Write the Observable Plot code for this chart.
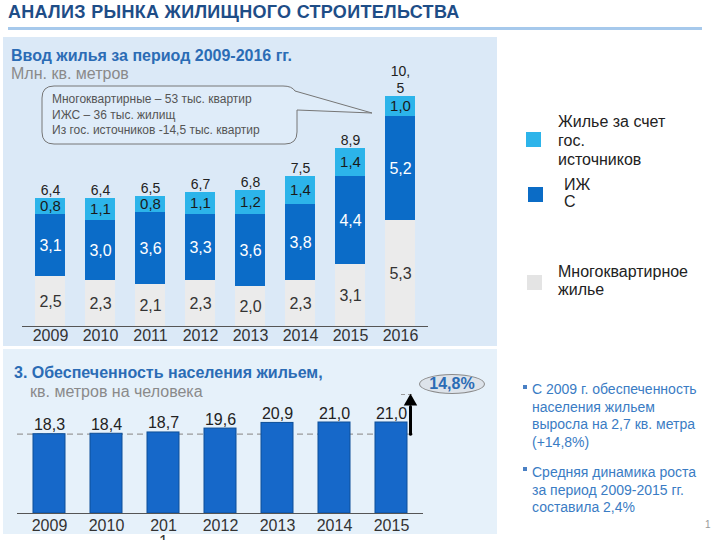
<!DOCTYPE html>
<html><head><meta charset="utf-8">
<script src="https://cdn.jsdelivr.net/npm/d3@7"></script>
<script src="https://cdn.jsdelivr.net/npm/@observablehq/plot@0.6"></script>
<style>
body{margin:0;width:720px;height:540px;overflow:hidden;background:#fff;font-family:"Liberation Sans",Arial,sans-serif;position:relative}
.abs{position:absolute;line-height:1;white-space:nowrap}
.panel{position:absolute}
.sq{position:absolute;width:15px;height:15px}
.leg{position:absolute;font-size:16px;color:#222;white-space:nowrap}
.bul{position:absolute;font-size:14px;color:#3a7cc4;line-height:17.7px;white-space:nowrap}
.mk{position:absolute;width:4px;height:4px;background:#4a80c4}
</style></head><body>
<div class="abs" style="left:8px;top:3px;font-size:18px;font-weight:bold;letter-spacing:0.3px;color:#1e4d87">АНАЛИЗ РЫНКА ЖИЛИЩНОГО СТРОИТЕЛЬСТВА</div>
<div class="abs" style="left:8px;top:27px;width:694px;height:3px;background:#a6c9ec"></div>

<div class="panel" style="left:3px;top:37px;width:494px;height:309px;background:#dbe9f7"></div>
<div class="panel" style="left:3px;top:349px;width:494px;height:185px;background:#e6f1fa"></div>

<div id="topchart" style="position:absolute;left:0;top:37px"></div>
<div id="lowchart" style="position:absolute;left:0;top:349px"></div>

<div class="abs" style="left:11px;top:48px;font-size:16px;font-weight:bold;color:#2b6cb5">Ввод жилья за период 2009-2016 гг.</div>
<div class="abs" style="left:11px;top:66px;font-size:16px;color:#8a8a8a">Млн. кв. метров</div>

<svg style="position:absolute;left:0;top:0" width="720" height="540">
  <path d="M54,86 H283 Q292,86 295,91 L372,113 L297,110 V132 Q297,144 285,144 H54 Q42,144 42,132 V98 Q42,86 54,86 Z" fill="#dfecf9" stroke="#767676" stroke-width="1"/>
</svg>
<div class="abs" style="left:52px;top:92px;font-size:12px;line-height:15.5px;color:#555">Многоквартирные – 53 тыс. квартир<br>ИЖС – 36 тыс. жилищ<br>Из гос. источников -14,5 тыс. квартир</div>

<div class="sq" style="left:526px;top:132px;background:#2db4ea"></div>
<div class="leg" style="left:558px;top:112px;line-height:19px">Жилье за счет<br>гос.<br>источников</div>
<div class="sq" style="left:528px;top:187px;background:#0b6cc6"></div>
<div class="leg" style="left:564px;top:176px;line-height:17px">ИЖ<br>С</div>
<div class="sq" style="left:527px;top:275px;background:#e4e4e4"></div>
<div class="leg" style="left:558px;top:263px;line-height:18px">Многоквартирное<br>жилье</div>

<div class="abs" style="left:14px;top:365px;font-size:16px;font-weight:bold;color:#2b6cb5">3. Обеспеченность населения жильем,</div>
<div class="abs" style="left:30px;top:384px;font-size:16px;color:#8a8a8a">кв. метров на человека</div>

<div class="abs" style="left:419px;top:374px;width:64px;height:18px;border:1px solid #8a8a8a;border-radius:50%;background:#dde3ea;text-align:center;line-height:18px;font-size:16px;font-weight:bold;color:#2b6cb5">14,8%</div>

<div class="mk" style="left:523px;top:385px"></div>
<div class="bul" style="left:532px;top:381px">С 2009 г. обеспеченность<br>населения жильем<br>выросла на 2,7 кв. метра<br>(+14,8%)</div>
<div class="mk" style="left:523px;top:467px"></div>
<div class="bul" style="left:532px;top:464px">Средняя динамика роста<br>за период 2009-2015 гг.<br>составила 2,4%</div>
<div class="abs" style="left:705px;top:520px;font-size:10px;color:#999">1</div>

<script>
// ---- Top chart data (млн. кв. метров) ----
const years = ["2009","2010","2011","2012","2013","2014","2015","2016"];
const multiFlat = [2.5, 2.3, 2.1, 2.3, 2.0, 2.3, 3.1, 5.3];
const izhs      = [3.1, 3.0, 3.6, 3.3, 3.6, 3.8, 4.4, 5.2];
const gosSrc    = [0.8, 1.1, 0.8, 1.1, 1.2, 1.4, 1.4, 1.0];
const totalLabels = ["6,4","6,4","6,5","6,7","6,8","7,5","8,9","10,\n5"];
const seriesNames = ["Многоквартирное жилье", "ИЖС", "Жилье за счет гос. источников"];

// ---- Lower chart data (кв. метров на человека) ----
const yearsLower = ["2009","2010","2011","2012","2013","2014","2015"];
const yearLabelsLower = ["2009","2010","201\n1","2012","2013","2014","2015"];
const perCapita = [18.3, 18.4, 18.7, 19.6, 20.9, 21.0, 21.0];

const fmt = v => d3.format(".1f")(v).replace(".", ",");
const FONT = '"Liberation Sans", Arial, sans-serif';

const stackData = [];
years.forEach((y, i) => {
  stackData.push({year: y, series: seriesNames[0], value: multiFlat[i]});
  stackData.push({year: y, series: seriesNames[1], value: izhs[i]});
  stackData.push({year: y, series: seriesNames[2], value: gosSrc[i]});
});
const totalsData = years.map((y, i) => ({year: y, sum: multiFlat[i] + izhs[i] + gosSrc[i], label: totalLabels[i]}));
const segText = s => d => d.series === s ? fmt(d.value) : null;

const topPlot = Plot.plot({
  width: 441, height: 309,
  marginLeft: 22, marginRight: 13, marginTop: 59, marginBottom: 20,
  x: {domain: years, paddingInner: 0.41, paddingOuter: 0.2, axis: null},
  y: {domain: [0, 11.5], axis: null},
  color: {domain: seriesNames, range: ["#ebebeb", "#0b6cc8", "#2cb4ea"]},
  style: {background: "transparent", fontFamily: FONT, fontSize: "16px", overflow: "visible"},
  marks: [
    Plot.barY(stackData, {x: "year", y: "value", fill: "series"}),
    Plot.ruleY([0], {stroke: "#555"}),
    Plot.text(stackData, Plot.stackY({x: "year", y: "value", text: segText(seriesNames[0]), fill: "#333", fontSize: 16})),
    Plot.text(stackData, Plot.stackY({x: "year", y: "value", text: segText(seriesNames[1]), fill: "white", fontSize: 16})),
    Plot.text(stackData, Plot.stackY({x: "year", y: "value", text: segText(seriesNames[2]), fill: "#1a1a1a", fontSize: 15})),
    Plot.text(totalsData, {x: "year", y: "sum", text: "label", lineAnchor: "bottom", lineHeight: 1.2, dy: -4, fontSize: 14, fill: "#222"}),
    Plot.text(years, {x: d => d, text: d => d, frameAnchor: "bottom", lineAnchor: "top", dy: 3, fontSize: 16, fill: "#333"})
  ]
});
document.getElementById("topchart").appendChild(topPlot);

const lowerData = yearsLower.map((y, i) => ({year: y, value: perCapita[i], label: yearLabelsLower[i]}));
const first = perCapita[0], last = perCapita[perCapita.length - 1];
const lastYear = yearsLower[yearsLower.length - 1];

const lowPlot = Plot.plot({
  width: 441, height: 196,
  marginLeft: 17, marginRight: 18, marginTop: 73, marginBottom: 32,
  x: {domain: yearsLower, paddingInner: 0.43, paddingOuter: 0.225, axis: null},
  y: {domain: [0, 21], axis: null},
  style: {background: "transparent", fontFamily: FONT, fontSize: "16px", overflow: "visible"},
  marks: [
    Plot.ruleY([first], {stroke: "#9a9a9a", strokeDasharray: "6,4", strokeWidth: 1.2, insetRight: 8}),
    Plot.barY(lowerData, {x: "year", y: "value", fill: "#1668c9", stroke: "#0d4f98", strokeWidth: 1}),
    Plot.ruleY([0], {stroke: "#555"}),
    Plot.text(lowerData, {x: "year", y: "value", text: d => fmt(d.value), lineAnchor: "bottom", dy: -4, fontSize: 16, fill: "#222"}),
    Plot.text(lowerData, {x: "year", text: "label", frameAnchor: "bottom", lineAnchor: "top", dy: 6, fontSize: 16, fill: "#333"}),
    Plot.tickY([{year: lastYear, v: last}], {x: "year", y: "v", dy: -28, insetLeft: 26, insetRight: -7, stroke: "#9a9a9a", strokeDasharray: "4,3"}),
    Plot.arrow([{year: lastYear, from: first, to: last}], {x: "year", y1: "from", y2: "to", dx: 19, insetEnd: -16, stroke: "black", strokeWidth: 3, headLength: 0}),
    Plot.dot([{year: lastYear, v: last}], {x: "year", y: "v", dx: 19, dy: -21, symbol: "triangle", r: 5, fill: "black"})
  ]
});
document.getElementById("lowchart").appendChild(lowPlot);
</script>
</body></html>
